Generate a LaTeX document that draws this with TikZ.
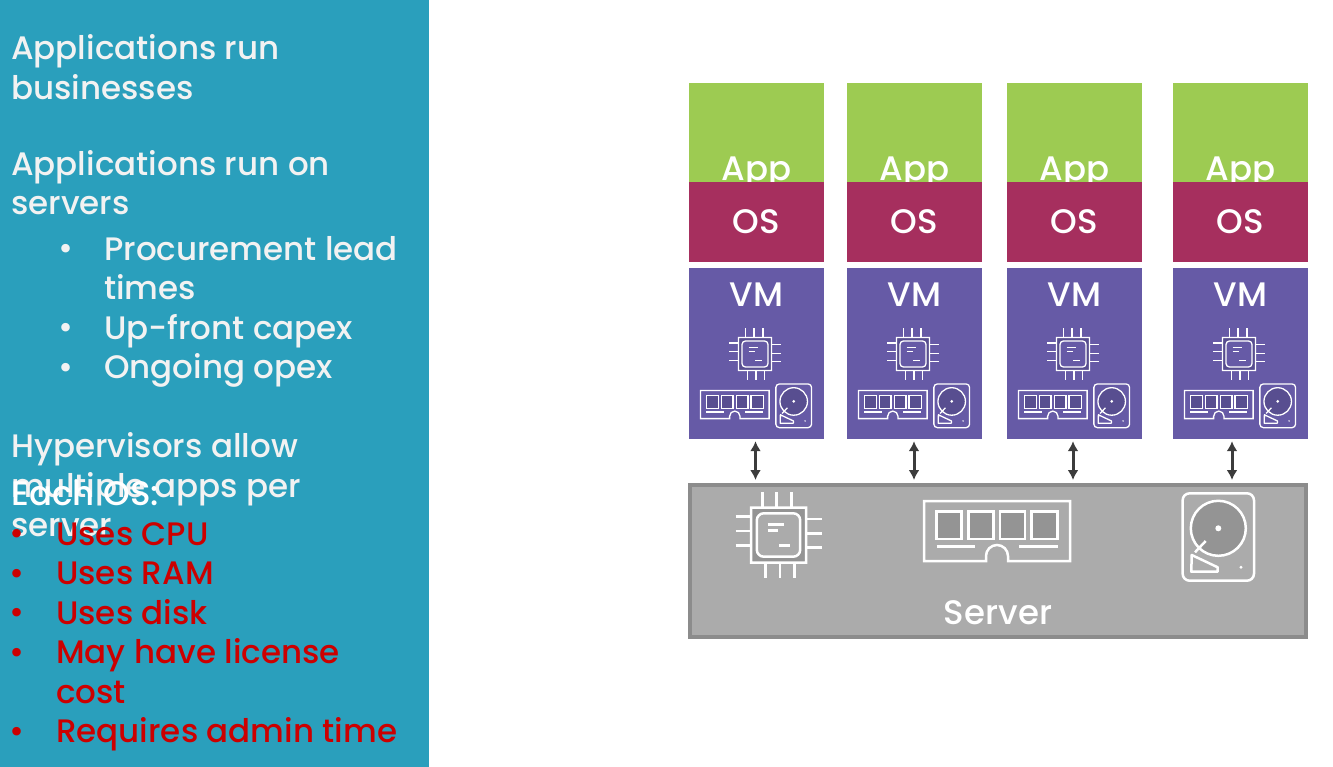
\documentclass[tikz,border=0pt]{standalone}
\usepackage{fontspec}
\setmainfont{Poppins}
\newfontfamily\labelfont{Poppins Medium}
\usetikzlibrary{arrows.meta}
\definecolor{paneblue}{HTML}{2A9FBC}
\definecolor{appgreen}{HTML}{9DCB52}
\definecolor{osred}{HTML}{A62F5E}
\definecolor{vmpurple}{HTML}{665AA6}
\definecolor{serverfill}{HTML}{ABABAB}
\definecolor{serveredge}{HTML}{8C8C8C}
\definecolor{linkgrey}{HTML}{3C3C3C}
\definecolor{warnred}{HTML}{CC0000}
\tikzstyle{pane}=[rectangle,
	fill=paneblue,
	inner sep=0pt,
	minimum width=429pt,
	minimum height=767pt]
\tikzstyle{notes}=[anchor=north west,
	yshift=27.65pt,
	inner sep=0pt,
	align=left,
	text=white!95!black,
	execute at begin node={\rule{0pt}{27.65pt}},
	font=\labelfont\fontsize{32.5}{39.5}\selectfont]
\tikzstyle{warn}=[notes,
	text=warnred]
\tikzstyle{app}=[rectangle,
	fill=appgreen,
	text=white,
	inner sep=0pt,
	minimum width=135pt,
	text height=98pt,
	text depth=1pt,
	font=\labelfont\fontsize{34}{34}\selectfont]
\tikzstyle{os}=[rectangle,
	fill=osred,
	text=white,
	inner sep=0pt,
	minimum width=135pt,
	minimum height=80pt,
	font=\labelfont\fontsize{34}{34}\selectfont]
\tikzstyle{vm}=[rectangle,
	fill=vmpurple,
	text=white,
	inner sep=0pt,
	minimum width=135pt,
	text height=39pt,
	text depth=132pt,
	font=\labelfont\fontsize{34}{34}\selectfont]
\tikzstyle{server}=[rectangle,
	fill=serverfill,
	draw=serveredge,
	line width=4pt,
	text=white,
	inner sep=0pt,
	minimum width=616pt,
	text height=139pt,
	text depth=13pt,
	font=\labelfont\fontsize{34}{34}\selectfont]
\tikzstyle{link}=[{Latex[length=10pt,width=11pt]}-{Latex[length=10pt,width=11pt]},
	line width=3pt,
	draw=linkgrey,
	shorten <=2pt,
	shorten >=3pt]
\tikzset{
	iconround/.style={rounded corners=7pt},
	iconshade/.style={fill=black, fill opacity=0.13},
	bigicon/.style={color=white, line width=2.5pt},
	smallicon/.style={color=white, line width=1.3pt, iconround/.style={rounded corners=3.5pt}},
	cpu/.pic={
		\draw[iconshade, even odd rule] (-27.5,-27.5) rectangle (27.5,27.5) [iconround] (-21.7,-21.7) rectangle (21.7,21.7);
		\draw (-16.2,27.5) -- (-16.2,43) (-1.8,27.5) -- (-1.8,43) (13.2,27.5) -- (13.2,43);
		\draw (-12.8,-27.5) -- (-12.8,-43) (1.5,-27.5) -- (1.5,-43) (15.8,-27.5) -- (15.8,-43);
		\draw (-43,18.3) -- (-27.5,18.3) (-43,4) -- (-27.5,4) (-43,-10.7) -- (-27.5,-10.7);
		\draw (27.5,16) -- (43,16) (27.5,1.3) -- (43,1.3) (27.5,-12.7) -- (43,-12.7);
		\draw (-10.8,10.7) -- (5.5,10.7) (-10.8,4.3) -- (-0.2,4.3) (0.5,-10.3) -- (11.5,-10.3);
	},
	ram/.pic={
		\draw (-73,30) -- (73,30) -- (73,-30) -- (11,-30) -- (11,-25) arc[start angle=0, end angle=180, radius=11] -- (-11,-30) -- (-73,-30) -- cycle;
		\draw[iconshade] (-60.3,-8) rectangle (-35.3,19.3);
		\draw[iconshade] (-28.7,-8) rectangle (-3.7,19.3);
		\draw[iconshade] (3,-8) rectangle (28,19.3);
		\draw[iconshade] (34.7,-8) rectangle (60.7,19.3);
		\draw (-60.3,-15.7) -- (-22,-15.7) (22.3,-15.7) -- (60.7,-15.7);
	},
	disk/.pic={
		\draw[iconround] (-35.7,-43.7) rectangle (35.7,43.7);
		\draw[iconshade] (0,8.7) circle[radius=27.5];
		\fill (0,8.7) circle[radius=3];
		\fill (22.7,-30.3) circle[radius=1.6];
		\draw (-12.6,-4) -- (-23.3,-15.3);
		\draw[line join=round] (-26.6,-18) -- (-0.6,-30.3) -- (-0.6,-34.7) -- (-27,-34.7) -- cycle;
	},
	vmicons/.pic={
		\pic[scale=0.6] at (-1.5,-0.5) {cpu};
		\pic[scale=0.47] at (-21.7,-51) {ram};
		\pic[scale=0.5] at (37.2,-52.3) {disk};
	}
}

\begin{document}
\begin{tikzpicture}[x=1pt,y=1pt]
	\useasboundingbox (0,0) rectangle (1333,-767);
	\node (sidebar) [pane, anchor=north west] at (0,0) {};

	\node (intro) [notes] at (11,-62) {Applications run\\businesses};
	\node (servers) [notes] at (11,-177.5) {Applications run on\\servers};
	\node (dots) [notes] at (58,-272) {•\\ \\•\\•};
	\node (costs) [notes] at (104,-263.5) {Procurement lead\\times\\Up-front capex\\Ongoing opex};
	\node (hyper) [notes] at (11,-460) {Hypervisors allow\\multiple apps per\\server};
	\node (eachos) [notes, text=white, font=\labelfont\fontsize{34}{39.5}\selectfont] at (11,-505) {Each OS:};
	\node (warndots) [warn] at (9,-557) {•\\•\\•\\•\\ \\•};
	\node (uses) [warn] at (56,-550) {Uses CPU\\Uses RAM\\Uses disk\\May have license\\cost\\Requires admin time};

	\node (app1) [app] at (756.5,-132.5) {App};
	\node (os1) [os, below of=app1, node distance=89.5pt] {OS};
	\node (vm1) [vm, below of=os1, node distance=131.5pt] {VM};

	\node (app2) [app, right of=app1, node distance=158pt] {App};
	\node (os2) [os, below of=app2, node distance=89.5pt] {OS};
	\node (vm2) [vm, below of=os2, node distance=131.5pt] {VM};

	\node (app3) [app, right of=app2, node distance=160pt] {App};
	\node (os3) [os, below of=app3, node distance=89.5pt] {OS};
	\node (vm3) [vm, below of=os3, node distance=131.5pt] {VM};

	\node (app4) [app, right of=app3, node distance=166pt] {App};
	\node (os4) [os, below of=app4, node distance=89.5pt] {OS};
	\node (vm4) [vm, below of=os4, node distance=131.5pt] {VM};

	\pic[smallicon] at (vm1.center) {vmicons};
	\pic[smallicon] at (vm2.center) {vmicons};
	\pic[smallicon] at (vm3.center) {vmicons};
	\pic[smallicon] at (vm4.center) {vmicons};

	\node (server) [server] at (998,-561) {Server};
	\pic[bigicon] at ([xshift=-219.5pt,yshift=26pt]server.center) {cpu};
	\pic[bigicon] at ([xshift=-1pt,yshift=30pt]server.center) {ram};
	\pic[bigicon] at ([xshift=220.3pt,yshift=24pt]server.center) {disk};

	\draw[link] ([xshift=-1pt]vm1.south) -- ([xshift=-1pt]vm1.south |- server.north);
	\draw[link] ([xshift=-0.5pt]vm2.south) -- ([xshift=-0.5pt]vm2.south |- server.north);
	\draw[link] ([xshift=-1.5pt]vm3.south) -- ([xshift=-1.5pt]vm3.south |- server.north);
	\draw[link] ([xshift=-8.5pt]vm4.south) -- ([xshift=-8.5pt]vm4.south |- server.north);
\end{tikzpicture}
\end{document}
